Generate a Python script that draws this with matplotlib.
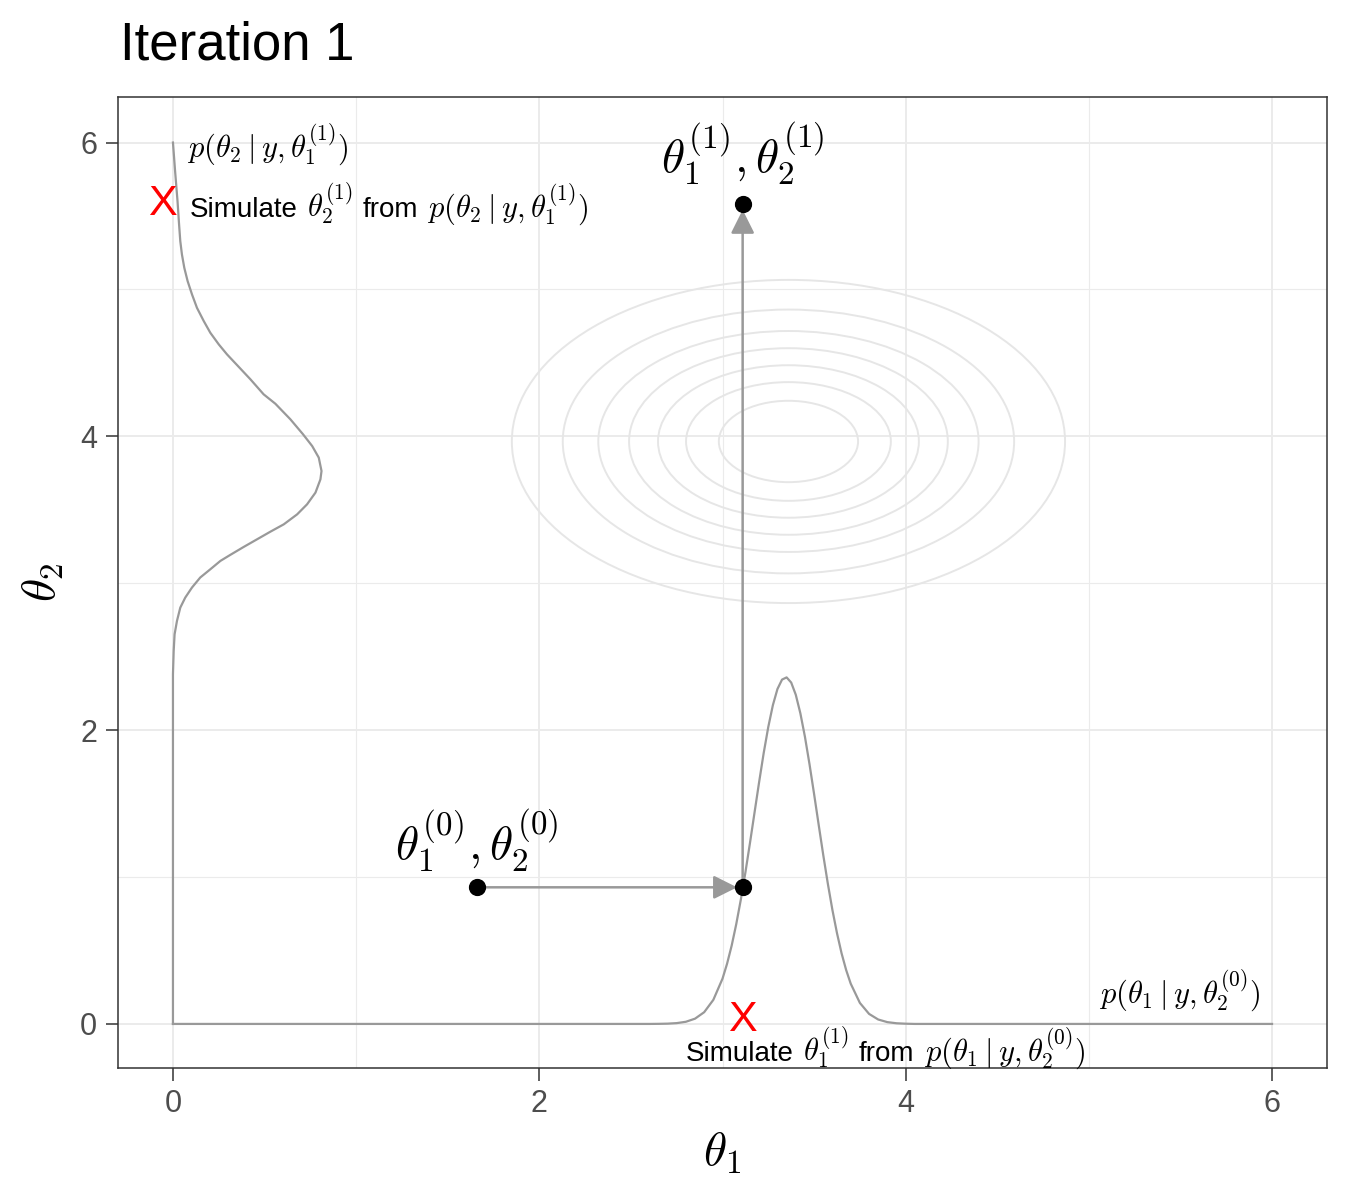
import matplotlib

matplotlib.use("Agg")
import matplotlib.pyplot as plt
from matplotlib.offsetbox import AnnotationBbox, HPacker, TextArea
from matplotlib.patches import Ellipse

plt.rcParams["font.family"] = ["Liberation Sans", "DejaVu Sans"]
plt.rcParams["mathtext.fontset"] = "cm"

# Gibbs step: starting point and the new draw
theta1_old, theta2_old = 1.66, 0.93
theta1_new, theta2_new = 3.11, 5.58

# conditional density of theta1 given theta2^(0), drawn along the x axis
theta1_grid = [0.0, 2.6, 2.65, 2.7, 2.75, 2.8, 2.85, 2.9, 2.95, 3.0, 3.025, 3.05, 3.075,
               3.1, 3.125, 3.15, 3.175, 3.2, 3.225, 3.25, 3.275, 3.3, 3.325, 3.35, 3.375,
               3.4, 3.425, 3.45, 3.475, 3.5, 3.525, 3.55, 3.575, 3.6, 3.625, 3.65, 3.675,
               3.7, 3.75, 3.8, 3.85, 3.9, 3.95, 4.0, 4.05, 6.0]
dens_theta1 = [0.0, 0.0, 0.0006, 0.0019, 0.0055, 0.0147, 0.0358, 0.0799, 0.164, 0.308,
               0.410, 0.533, 0.679, 0.846, 1.031, 1.232, 1.440, 1.647, 1.845, 2.022, 2.170,
               2.280, 2.344, 2.359, 2.324, 2.241, 2.115, 1.955, 1.768, 1.565, 1.356, 1.150,
               0.955, 0.776, 0.618, 0.481, 0.367, 0.274, 0.143, 0.0684, 0.0301, 0.0122,
               0.0045, 0.0015, 0.0, 0.0]

# conditional density of theta2 given theta1^(1), drawn along the y axis
theta2_grid = [0.0, 2.38, 2.54, 2.653, 2.744, 2.834, 2.902, 2.971, 3.039, 3.095, 3.152,
               3.193, 3.247, 3.299, 3.351, 3.401, 3.469, 3.537, 3.617, 3.707, 3.764, 3.855,
               3.934, 4.014, 4.116, 4.222, 4.286, 4.388, 4.485, 4.558, 4.626, 4.705, 4.785,
               4.875, 4.966, 5.057, 5.147, 5.238, 5.329, 5.45, 5.6, 5.8, 6.0]
dens_theta2 = [0.0, 0.0, 0.004, 0.009, 0.022, 0.040, 0.067, 0.104, 0.149, 0.204, 0.259,
               0.313, 0.386, 0.459, 0.532, 0.605, 0.678, 0.732, 0.778, 0.805, 0.811, 0.796,
               0.760, 0.710, 0.641, 0.559, 0.495, 0.423, 0.350, 0.295, 0.250, 0.204, 0.168,
               0.131, 0.104, 0.080, 0.062, 0.049, 0.040, 0.033, 0.025, 0.012, 0.0]

# joint posterior contours (half-widths / half-heights)
contour_center = (3.36, 3.965)
contour_hw = [1.51, 1.232, 1.038, 0.870, 0.712, 0.559, 0.380]
contour_hh = [1.10, 0.898, 0.752, 0.635, 0.519, 0.404, 0.277]

major_ticks = [0, 2, 4, 6]
minor_ticks = [1, 3, 5]

TEXT_SIZE = 20
MATH_SIZE = 22


def mixed_label(ax, parts, xy, box_alignment):
    areas = [TextArea(s, textprops=dict(fontsize=fs, color="black")) for s, fs in parts]
    pack = HPacker(children=areas, align="baseline", pad=0, sep=7)
    box = AnnotationBbox(pack, xy, xycoords="data", frameon=False,
                         box_alignment=box_alignment, pad=0, zorder=5)
    ax.add_artist(box)


W, H = 1350, 1200
fig = plt.figure(figsize=(W / 100, H / 100), dpi=100)
ax = fig.add_axes([118 / W, 1 - 1068 / H, (1327 - 118) / W, (1068 - 97) / H])
ax.set_xlim(-0.3, 6.3)
ax.set_ylim(-0.3, 6.31)

# ggplot theme_bw look
ax.set_xticks(major_ticks)
ax.set_yticks(major_ticks)
ax.set_xticks(minor_ticks, minor=True)
ax.set_yticks(minor_ticks, minor=True)
ax.grid(which="major", color="#EBEBEB", lw=1.4, zorder=0)
ax.grid(which="minor", color="#EBEBEB", lw=0.8, zorder=0)
ax.tick_params(which="major", length=9, width=1.1, color="#333333",
               labelsize=22, labelcolor="#4D4D4D", pad=6)
ax.tick_params(which="minor", length=0)
for spine in ax.spines.values():
    spine.set_color("#333333")
    spine.set_linewidth(1.1)
ax.set_axisbelow(True)

for hw, hh in zip(contour_hw, contour_hh):
    ax.add_patch(Ellipse(contour_center, 2 * hw, 2 * hh, fill=False,
                         edgecolor="#E6E6E6", lw=1.4, zorder=1))

ax.plot(theta1_grid, dens_theta1, color="#999999", lw=1.6, zorder=2)
ax.plot(dens_theta2, theta2_grid, color="#999999", lw=1.6, zorder=2)

arrow = dict(arrowstyle="-|>", color="#999999", lw=1.8, mutation_scale=36,
             shrinkA=0, shrinkB=4)
ax.annotate("", xy=(theta1_new, theta2_old), xytext=(theta1_old, theta2_old),
            arrowprops=arrow, zorder=3)
ax.annotate("", xy=(theta1_new, theta2_new), xytext=(theta1_new, theta2_old),
            arrowprops=arrow, zorder=3)

ax.scatter([theta1_old, theta1_new, theta1_new], [theta2_old, theta2_old, theta2_new],
           s=130, color="black", zorder=4)

ax.text(theta1_old, 1.245, r"$\theta_1^{(0)}, \theta_2^{(0)}$", fontsize=34,
        ha="center", va="center")
ax.text(theta1_new, 5.92, r"$\theta_1^{(1)}, \theta_2^{(1)}$", fontsize=34,
        ha="center", va="center")

ax.text(0.077, 5.99, r"$p(\theta_2 \mid y, \theta_1^{(1)})$", fontsize=MATH_SIZE,
        ha="left", va="center")
ax.text(5.94, 0.23, r"$p(\theta_1 \mid y, \theta_2^{(0)})$", fontsize=MATH_SIZE,
        ha="right", va="center")

ax.text(-0.06, theta2_new, "X", color="red", fontsize=31, ha="center", va="center")
mixed_label(ax, [("Simulate", TEXT_SIZE), (r"$\theta_2^{(1)}$", MATH_SIZE),
                 ("from", TEXT_SIZE), (r"$p(\theta_2 \mid y, \theta_1^{(1)})$", MATH_SIZE)],
            (0.09, theta2_new), (0.0, 0.5))
ax.text(theta1_new, 0.03, "X", color="red", fontsize=31, ha="center", va="center")
mixed_label(ax, [("Simulate", TEXT_SIZE), (r"$\theta_1^{(1)}$", MATH_SIZE),
                 ("from", TEXT_SIZE), (r"$p(\theta_1 \mid y, \theta_2^{(0)})$", MATH_SIZE)],
            (3.89, -0.165), (0.5, 0.5))

ax.set_xlabel(r"$\theta_1$", fontsize=34, labelpad=8)
ax.set_ylabel(r"$\theta_2$", fontsize=34, labelpad=10)

fig.text(120 / W, 1 - 45 / H, "Iteration 1", fontsize=38, ha="left", va="center")

fig.savefig("out.png", dpi=100)
